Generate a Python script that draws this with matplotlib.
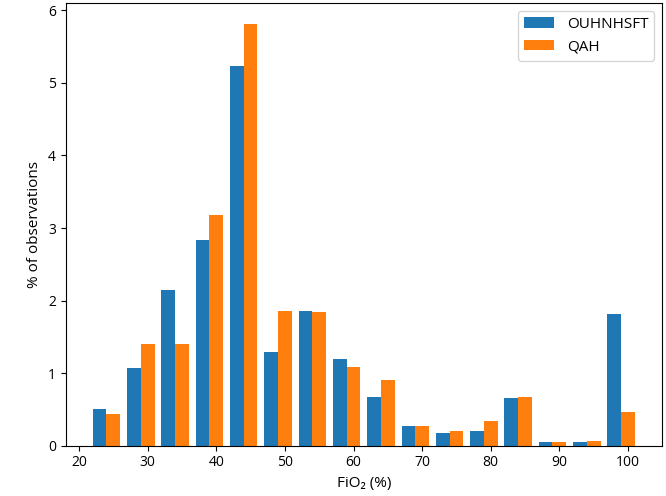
import numpy as np
import matplotlib
matplotlib.use("Agg")
import matplotlib.pyplot as plt

plt.rcParams["font.family"] = ["Open Sans", "DejaVu Sans"]
plt.rcParams["font.size"] = 10

# FiO2 bins (centres of 5% wide bins) and % of observations per site
bin_centres = [24, 29, 34, 39, 44, 49, 54, 59, 64, 69, 74, 79, 84, 89, 94, 99]
ouh = [0.51, 1.07, 2.14, 2.84, 5.23, 1.285, 1.86, 1.20, 0.675, 0.276, 0.176, 0.208, 0.657, 0.048, 0.048, 1.81]
qah = [0.44, 1.395, 1.395, 3.18, 5.81, 1.86, 1.84, 1.087, 0.905, 0.276, 0.208, 0.34, 0.675, 0.048, 0.062, 0.46]
labels = ["OUHNHSFT", "QAH"]

edges = np.arange(21.5, 102, 5)

fig = plt.figure(figsize=(6.66, 4.96), dpi=100)
ax = fig.add_axes([0.0986, 0.1014, 0.8953, 0.8925])

ax.hist([bin_centres, bin_centres], bins=edges, weights=[ouh, qah],
        color=["#1f77b4", "#ff7f0e"], label=labels)

ax.set_xticks([20, 30, 40, 50, 60, 70, 80, 90, 100])
ax.set_yticks([0, 1, 2, 3, 4, 5, 6])
ax.set_xlabel("FiO₂ (%)", fontsize=11)
ax.set_ylabel("% of observations", fontsize=11)
ax.legend(loc="upper right", fontsize=11)

fig.savefig("out.png", dpi=100)
